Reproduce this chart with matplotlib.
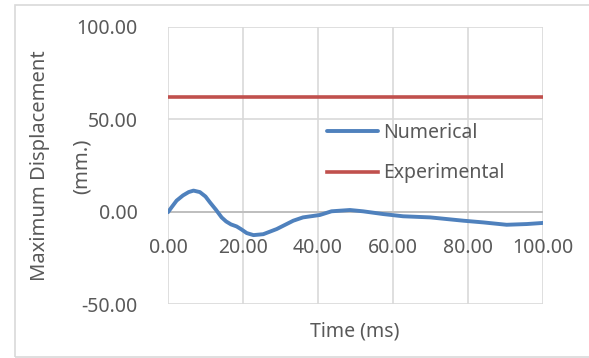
import matplotlib.pyplot as plt
from matplotlib.patches import Rectangle

# numerical result (time in ms, displacement in mm)
time_ms = [0, 1, 2.3, 4, 5.5, 6.8, 8.5, 10, 11.2, 12.8, 14.3, 15.5, 16.8, 18.3,
           19.5, 21, 22.8, 25.4, 29, 33.4, 36, 40.5, 43.6, 48.5, 52, 57.4, 62.7,
           69.9, 78.8, 84, 90.3, 95.7, 100]
numerical = [-0.3, 2.5, 6, 8.8, 10.6, 11.4, 10.6, 8.2, 5, 1, -3.1, -5.3, -6.9, -8.0,
             -9.5, -11.6, -12.7, -12.2, -9.4, -4.9, -3.1, -1.8, 0.2, 0.9, 0.2, -1.3,
             -2.5, -3.1, -4.9, -5.8, -7.1, -6.7, -6.1]
# experimental value is a single constant
experimental = 62.0

x_ticks = [0, 20, 40, 60, 80, 100]
y_ticks = [-50, 0, 50, 100]

txt = '#595959'
grid = '#D9D9D9'
plt.rcParams['font.family'] = ['Noto Sans', 'DejaVu Sans']

fig = plt.figure(figsize=(5.89, 3.58), dpi=100)
W, H = 589, 358
ax = fig.add_axes([168 / W, 1 - 304 / H, (543 - 168) / W, (304 - 27) / H])

# chart area border (right edge runs off the image)
fig.patches.append(Rectangle((15 / W, 1 - 357 / H), 1.0, (357 - 5) / H,
                             transform=fig.transFigure, fill=False,
                             edgecolor='#D9D9D9', lw=1.2))

ax.plot(time_ms, numerical, color='#4F81BD', lw=2.8, solid_capstyle='round',
        solid_joinstyle='round', label='Numerical', zorder=3)
ax.plot([0, 100], [experimental, experimental], color='#C0504D', lw=2.6,
        label='Experimental', zorder=3)

ax.set_xlim(0, 100)
ax.set_ylim(-50, 100)
ax.set_xticks(x_ticks)
ax.set_yticks(y_ticks)
ax.grid(True, color=grid, lw=1.2)
ax.set_axisbelow(True)
for s in ax.spines.values():
    s.set_visible(False)
ax.axhline(0, color='#BFBFBF', lw=1.4, zorder=2)

ax.tick_params(length=0, labelsize=14, colors=txt)
ax.set_yticklabels(['%.2f' % v for v in y_ticks])
ax.tick_params(axis='y', pad=22)
ax.set_xticklabels([])
# x labels sit under the zero line
for v in x_ticks:
    ax.text(v, -14, '%.2f' % v, ha='center', va='top', fontsize=14, color=txt)

fig.text(40 / W, 1 - 166 / H, 'Maximum Displacement', rotation=90,
         ha='center', va='center', fontsize=14.5, color=txt)
fig.text(82 / W, 1 - 166 / H, '(mm.)', rotation=90,
         ha='center', va='center', fontsize=14.5, color=txt)
fig.text(355 / W, 1 - 331 / H, 'Time (ms)', ha='center', va='center',
         fontsize=14, color=txt)

leg = ax.legend(loc='upper left', bbox_to_anchor=(327 / W, 1 - 123 / H),
                bbox_transform=fig.transFigure, frameon=False, fontsize=14,
                handlelength=2.6, handletextpad=0.3, labelspacing=1.05,
                borderaxespad=0, borderpad=0)
for t in leg.get_texts():
    t.set_color(txt)

fig.savefig('out.png', dpi=100, facecolor='white')
